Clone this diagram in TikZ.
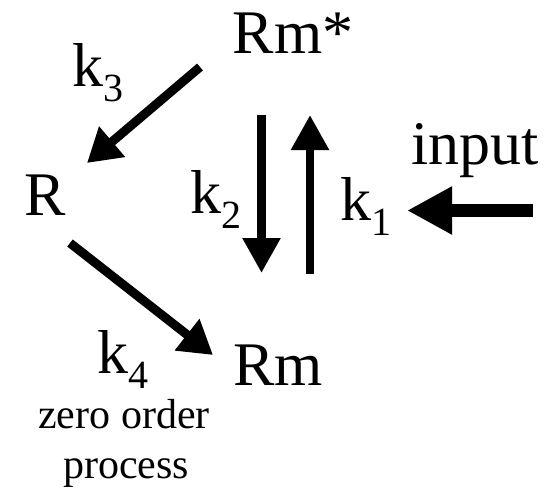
\documentclass[tikz,border=0pt]{standalone}
\usepackage{fontspec}
\setmainfont{Liberation Serif}
\usetikzlibrary{arrows.meta}
\newcommand{\rate}[1]{k\raisebox{-15pt}{\fontsize{40}{40}\selectfont #1}}

\begin{document}
\begin{tikzpicture}[x=1pt, y=-1pt,
  species/.style={inner sep=0pt, anchor=base, font=\fontsize{62}{68}\selectfont},
  note/.style={inner sep=0pt, anchor=base, font=\fontsize{42}{46}\selectfont},
  flow/.style={-{Triangle[length=33pt, width=38pt]}, line width=9pt},
  flux/.style={-{Triangle[length=35pt, width=36pt]}, line width=8.5pt},
  feed/.style={-{Triangle[length=45pt, width=45pt]}, line width=12.5pt}
]
\useasboundingbox (0,0) rectangle (548,493);

    \node[species] (rms) at (293,53) {Rm*};
    \node[species] (r) at (45,215) {R};
    \node[species] (rm) at (278,385) {Rm};
    \node[species] (inp) at (475,164) {input};

    \node[species] (k3) at (97.5,86) {\rate{3}};
    \node[species] (k2) at (215.5,213) {\rate{2}};
    \node[species] (k1) at (365.5,220) {\rate{1}};
    \node[species] (k4) at (122.5,373) {\rate{4}};
    \node[note] (zero) at (124,428) {zero order};
    \node[note] (proc) at (126,478) {process};

    \draw[flow] ([shift={(-93,14)}]rms.base) -- ([shift={(42,-52)}]r.base);
    \draw[flow] ([shift={(25,28)}]r.base) -- ([shift={(-65,-30)}]rm.base);
    \draw[flux] ([shift={(-31.5,62)}]rms.base) -- ([shift={(-16.5,-112)}]rm.base);
    \draw[flux] ([shift={(32,-111)}]rm.base) -- ([shift={(17,62)}]rms.base);
    \draw[feed] ([shift={(58,46.5)}]inp.base) -- ([shift={(41.5,-9.5)}]k1.base);
\end{tikzpicture}
\end{document}
